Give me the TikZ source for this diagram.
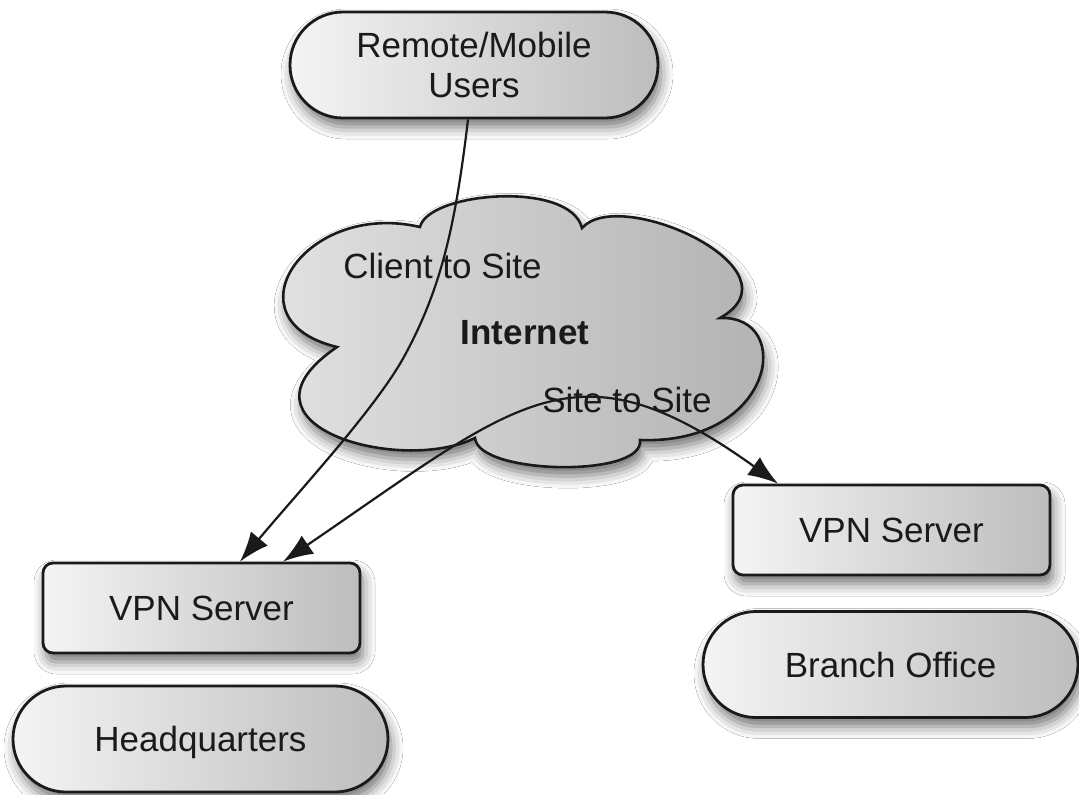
\documentclass[tikz,border=0pt]{standalone}
\usepackage{fontspec}
\setmainfont{Liberation Sans}
\usetikzlibrary{shapes.misc,arrows.meta,calc,shadows.blur}

\definecolor{ink}{HTML}{1A1A1A}
\definecolor{boxlight}{HTML}{F4F4F4}
\definecolor{boxdark}{HTML}{BDBDBD}
\definecolor{cloudlight}{HTML}{E6E6E6}
\definecolor{clouddark}{HTML}{AFAFAF}

\begin{document}
\begin{tikzpicture}[x=0.5pt,y=-0.5pt,
  every node/.style={font=\fontsize{17.5}{20}\selectfont, text=ink},
  softshadow/.style={blur shadow={shadow xshift=1.5pt, shadow yshift=-4.5pt,
      shadow blur radius=6pt, shadow opacity=55}},
  boxbase/.style={draw=ink, line width=1.4pt, left color=boxlight,
      right color=boxdark, softshadow, inner sep=0pt},
  capline/.style={text height=12.5pt, text depth=0pt},
  serverbox/.style={boxbase, rectangle, rounded corners=5pt,
      minimum width=158.5pt, minimum height=45pt},
  sitebox/.style={boxbase, rounded rectangle,
      minimum width=187.5pt, minimum height=53pt},
  cloudshape/.style={draw=ink, line width=1.3pt, left color=cloudlight,
      right color=clouddark, softshadow},
  link/.style={draw=ink, line width=1.1pt},
  tip/.tip={Latex[length=15pt,width=11pt]}]

% page
\fill[white] (0,0) rectangle (1079,794);
\useasboundingbox (0,0) rectangle (1079,794);

% the Internet cloud: six lobes meeting in cusps
\path[cloudshape] (420,227)
  .. controls (428,192) and (570,180) .. (582,228)
  .. controls (620,185) and (805,270) .. (720,318)
  .. controls (795,315) and (775,445) .. (640,440)
  .. controls (645,478) and (478,475) .. (475,438)
  .. controls (400,475) and (222,425) .. (337,347)
  .. controls (225,320) and (305,200) .. (420,227)
  -- cycle;

\node[anchor=base] (cts) at (442.5,278) {Client to Site};
\node[anchor=base, font={\fontsize{17.5}{20}\selectfont\bfseries}] (net) at (525,344) {Internet};
\node[anchor=base] (sts) at (627,412) {Site to Site};

% sites and servers
\node[sitebox, minimum width=184pt, align=center] (ru) at (474,65) {Remote/Mobile\\Users};
\node[serverbox, capline] (vpnL) at (201.5,608) {VPN Server};
\node[sitebox, capline] (hq) at (200.5,739) {Headquarters};
\node[serverbox, capline] (vpnR) at (891.5,530) {VPN Server};
\node[sitebox, capline] (bo) at (890.5,664.5) {Branch Office};

% client-to-site tunnel
\draw[link, -tip] ($(ru.south)+(-6,0)$)
  .. controls (455,230) and (440,290) .. (405,355)
  .. controls (377,407) and (300,490) .. ($(vpnL.north)+(38.5,0)$);

% site-to-site tunnel
\draw[link, tip-tip] ($(vpnL.north)+(81.5,0)$)
  .. controls (520,400) and (575,338) .. ($(vpnR.north)+(-113.5,0)$);

\end{tikzpicture}
\end{document}
